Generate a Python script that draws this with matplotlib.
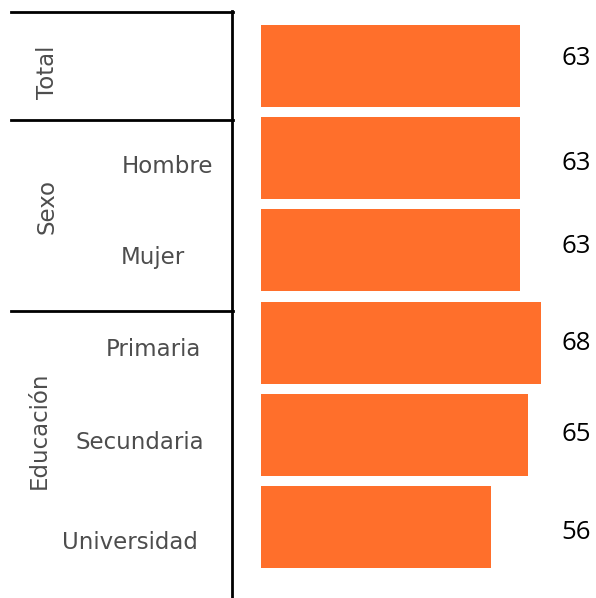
import matplotlib
matplotlib.use("Agg")
import matplotlib.pyplot as plt
from matplotlib.lines import Line2D
import matplotlib.transforms as mtransforms

categories = ["Total", "Hombre", "Mujer", "Primaria", "Secundaria", "Universidad"]
values = [63, 63, 63, 68, 65, 56]
groups = ["Total", "Sexo", "Educación"]

W, H = 596, 598
fig = plt.figure(figsize=(W / 100, H / 100), dpi=100)

BAR = "#FF6F2B"
GRAY = "#4D4D4D"
LABEL_FONT = ["DejaVu Sans"]
VALUE_FONT = ["Open Sans", "DejaVu Sans"]

def fx(px):
    return px / W

def fy(py):
    return 1 - py / H

# bar axes: left at 261px, 4.111 px per unit
px_per_unit = 4.111
xmax = 80
ax = fig.add_axes([fx(261), 0, xmax * px_per_unit / W, 1])
pitch = 92.2
c0 = 66
ax.set_ylim((H - c0) / pitch, -c0 / pitch)
ax.set_xlim(0, xmax)
ypos = list(range(len(categories)))
ax.barh(ypos, values, height=82 / pitch, color=BAR, edgecolor="none")
ax.axis("off")

# value labels
trans = mtransforms.blended_transform_factory(fig.transFigure, ax.transData)
val_offsets = [-0.08, 0.06, -0.04, 0.01, 0.0, 0.06]
for i, v in enumerate(values):
    ax.text(fx(576), i + val_offsets[i], f"{v}", transform=trans, ha="center", va="center",
            fontsize=18.5, family=VALUE_FONT, color="black")

# category labels (skip Total)
label_pos = {"Hombre": (168, 0.09), "Mujer": (153, 0.08), "Primaria": (153, 0.08),
             "Secundaria": (140, 0.08), "Universidad": (130, 0.17)}
for i, c in enumerate(categories):
    if c in label_pos:
        x, dy = label_pos[c]
        ax.text(fx(x), i + dy, c, transform=trans, ha="center", va="center",
                fontsize=16.5, family=LABEL_FONT, color=GRAY)

# group labels
group_pos = {"Total": (47, 72), "Sexo": (47, 207), "Educación": (39, 430)}
for g in groups:
    x, y = group_pos[g]
    fig.text(fx(x), fy(y), g, rotation=90, ha="center", va="center",
             fontsize=16.5, family=LABEL_FONT, color=GRAY)

# table lines
lw = 2.0
fig.add_artist(Line2D([fx(232), fx(232)], [fy(11), 0], color="black", lw=lw))
for py in [12, 120, 311]:
    fig.add_artist(Line2D([fx(11), fx(233)], [fy(py), fy(py)], color="black", lw=lw))

fig.savefig("out.png", dpi=100, facecolor="white")
